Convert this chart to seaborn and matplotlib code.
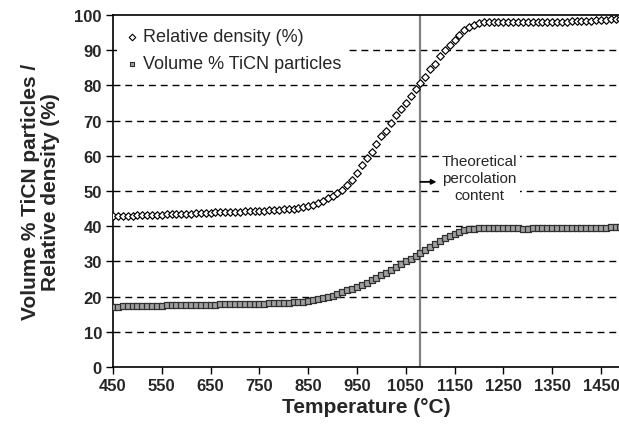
import numpy as np
import pandas as pd
import matplotlib
matplotlib.use("Agg")
import matplotlib.pyplot as plt
import seaborn as sns

temperature = list(range(450, 1500, 10))

relative_density = [
    42.8, 42.9, 42.9, 43.0, 43.0, 43.1, 43.1, 43.2, 43.2, 43.3,
    43.3, 43.4, 43.4, 43.5, 43.5, 43.6, 43.6, 43.7, 43.7, 43.8,
    43.8, 43.9, 43.9, 44.0, 44.0, 44.1, 44.1, 44.2, 44.2, 44.3,
    44.3, 44.4, 44.5, 44.6, 44.7, 44.8, 44.9, 45.0, 45.2, 45.4,
    45.7, 46.0, 46.6, 47.3, 48.0, 48.6, 49.4, 50.4, 51.7, 53.2,
    55.1, 57.5, 59.4, 61.0, 63.4, 65.5, 67.1, 69.3, 71.5, 73.4,
    75.0, 77.1, 79.0, 80.7, 82.3, 84.6, 86.2, 88.4, 90.1, 91.5,
    92.8, 94.3, 95.7, 96.7, 97.3, 97.7,
    97.9, 98.0, 98.0, 98.0, 98.0, 98.0, 98.0, 98.0, 97.9, 97.9,
    97.9, 98.0, 98.0, 98.1, 98.1, 98.1, 98.1, 98.1, 98.2, 98.2,
    98.3, 98.3, 98.4, 98.5, 98.6, 98.7, 98.8, 98.8, 98.9,
]

volume_ticn = [
    17.1, 17.1, 17.2, 17.2, 17.2, 17.3, 17.3, 17.3, 17.4, 17.4,
    17.4, 17.5, 17.5, 17.5, 17.5, 17.6, 17.6, 17.6, 17.7, 17.7,
    17.7, 17.7, 17.8, 17.8, 17.8, 17.8, 17.9, 17.9, 17.9, 18.0,
    18.0, 18.0, 18.1, 18.1, 18.2, 18.2, 18.3, 18.4, 18.5, 18.6,
    18.8, 19.0, 19.2, 19.5, 19.9, 20.3, 20.8, 21.3, 21.8, 22.3,
    22.8, 23.4, 24.0, 24.7, 25.4, 26.1, 26.8, 27.5, 28.4, 29.2,
    30.0, 30.8, 31.6, 32.4, 33.3, 34.2, 35.0, 35.8, 36.6, 37.3,
    37.9, 38.4, 38.8, 39.1, 39.3, 39.4,
    39.4, 39.4, 39.4, 39.4, 39.4, 39.4, 39.4, 39.4, 39.3, 39.3,
    39.4, 39.4, 39.4, 39.4, 39.4, 39.5, 39.5, 39.5, 39.5, 39.5,
    39.5, 39.5, 39.6, 39.6, 39.6, 39.6, 39.7, 39.7, 39.7,
]

x_ticks = list(range(450, 1451, 100))
y_ticks = list(range(0, 101, 10))
percolation_temp = 1080

sns.set_style("ticks")
plt.rcParams['font.family'] = ['Liberation Sans', 'DejaVu Sans']

fig = plt.figure(figsize=(6.19, 4.27), dpi=100)
ax = fig.add_axes([113/619, 1 - 368/427, 506/619, 352/427])

for yv in y_ticks[1:-1]:
    ax.axhline(yv, color='black', lw=1, ls=(0, (5, 3.5)), zorder=1)

ax.axvline(percolation_temp, color='#808080', lw=1.6, zorder=2)

df = pd.DataFrame({'T': temperature, 'rd': relative_density, 'vp': volume_ticn})

sns.scatterplot(data=df, x='T', y='rd', ax=ax, marker='D', s=15,
                facecolor='white', edgecolor='black', linewidth=0.85,
                label='Relative density (%)', zorder=3)
sns.scatterplot(data=df, x='T', y='vp', ax=ax, marker='s', s=25,
                facecolor='#a0a0a0', edgecolor='#303030', linewidth=0.9,
                label='Volume % TiCN particles', zorder=3)

ax.set_xlim(450, 1487)
ax.set_ylim(0, 100)
ax.set_xticks(x_ticks)
ax.set_yticks(y_ticks)
ax.tick_params(axis='both', direction='out', length=5, width=1, color='black',
               labelsize=12, pad=3)
for lab in ax.get_xticklabels() + ax.get_yticklabels():
    lab.set_fontweight('bold')

for s in ['left', 'bottom', 'top']:
    ax.spines[s].set_color('black')
    ax.spines[s].set_linewidth(1.2)
ax.spines['right'].set_visible(False)

ax.set_xlabel('Temperature (°C)', fontsize=15, fontweight='bold', labelpad=3)
ax.set_ylabel('Volume % TiCN particles /\nRelative density (%)', fontsize=15,
              fontweight='bold', labelpad=10, linespacing=1.1)

leg = ax.legend(loc='upper left', bbox_to_anchor=(0.008, 0.98), frameon=True,
                fontsize=13, handletextpad=0.1, labelspacing=0.55,
                borderaxespad=0, handlelength=1.0, borderpad=0.35,
                fancybox=False, framealpha=1)
leg.get_frame().set_facecolor('white')
leg.get_frame().set_edgecolor('none')
leg.set_zorder(5)
for h in leg.legend_handles:
    h.set_sizes([11])
    h.set_linewidth(0.8)

ax.annotate('', xy=(1113, 52.6), xytext=(percolation_temp, 52.6),
            arrowprops=dict(arrowstyle='-|>', color='black', lw=1.3,
                            mutation_scale=7, shrinkA=0, shrinkB=0))
ax.text(1201, 53.7, 'Theoretical\npercolation\ncontent', ha='center', va='center',
        fontsize=11, linespacing=1.3, zorder=4,
        bbox=dict(facecolor='white', edgecolor='none', pad=2))

fig.savefig('out.png', dpi=100)
